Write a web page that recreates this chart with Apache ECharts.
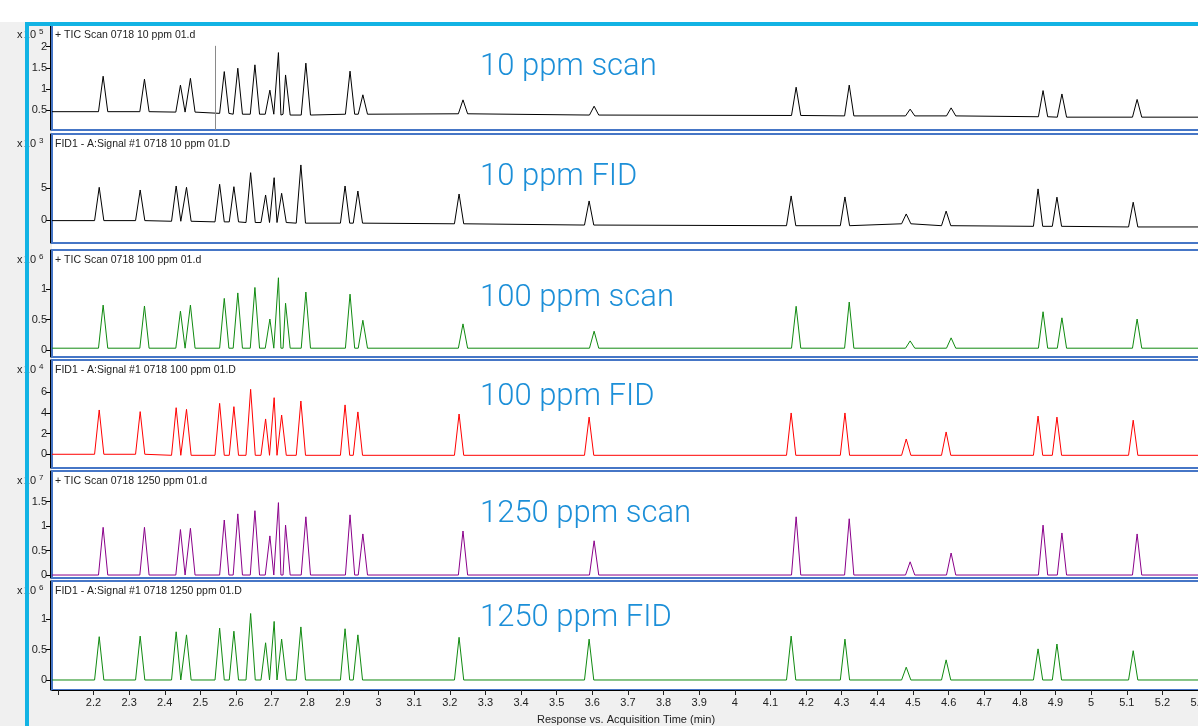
<!DOCTYPE html>
<html><head><meta charset="utf-8">
<script src="https://cdn.jsdelivr.net/npm/echarts@6/dist/echarts.min.js"></script>
<style>html,body{margin:0;padding:0;background:#fff}#c{width:1198px;height:726px}</style>
</head><body><div id="c"></div>
<script>
// ---------- data ----------
// retention times (min) of the peaks, MS (TIC) traces and FID traces
const msTimes  = [2.227, 2.343, 2.444, 2.472, 2.567, 2.605, 2.653, 2.695, 2.719, 2.739, 2.796, 2.920, 2.956, 3.237, 3.605, 4.172, 4.321, 4.492, 4.607, 4.865, 4.918, 5.129];
const fidTimes = [2.216, 2.331, 2.432, 2.461, 2.554, 2.594, 2.641, 2.683, 2.707, 2.728, 2.782, 2.906, 2.942, 3.226, 3.591, 4.158, 4.309, 4.481, 4.593, 4.851, 4.904, 5.118];

// apex heights (in units of the panel's multiplier)
const tic10Peaks   = [1.30, 1.23, 1.09, 1.25, 1.41, 1.49, 1.57, 0.97, 1.86, 1.33, 1.61, 1.42, 0.86, 0.74, 0.59, 1.04, 1.09, 0.52, 0.55, 0.96, 0.88, 0.75];
const fid10Peaks   = [5.15, 4.73, 5.36, 5.15, 5.63, 5.25, 7.46, 3.94, 6.67, 4.21, 8.68, 5.36, 4.57, 4.10, 3.00, 3.79, 3.63, 0.95, 1.40, 4.90, 3.60, 2.80];
const tic100Peaks  = [0.74, 0.725, 0.64, 0.74, 0.85, 0.94, 1.03, 0.51, 1.19, 0.77, 0.955, 0.92, 0.49, 0.43, 0.31, 0.72, 0.79, 0.15, 0.20, 0.63, 0.53, 0.51];
const fid100Peaks  = [4.29, 4.13, 4.51, 4.35, 4.93, 4.61, 6.29, 3.42, 5.48, 3.80, 5.16, 4.78, 4.10, 3.90, 3.60, 4.00, 4.00, 1.48, 2.16, 3.70, 3.60, 3.30];
const tic1250Peaks = [0.975, 0.975, 0.93, 0.955, 1.125, 1.25, 1.315, 0.80, 1.48, 1.02, 1.19, 1.23, 0.84, 0.90, 0.70, 1.19, 1.15, 0.27, 0.45, 1.02, 0.86, 0.84];
const fid1250Peaks = [0.71, 0.72, 0.79, 0.74, 0.85, 0.80, 1.09, 0.61, 0.96, 0.67, 0.87, 0.84, 0.74, 0.70, 0.67, 0.72, 0.67, 0.21, 0.33, 0.51, 0.59, 0.48];

// baseline level under each peak
const tic10Base   = [0.46, 0.46, 0.45, 0.45, 0.42, 0.40, 0.40, 0.40, 0.40, 0.38, 0.38, 0.40, 0.40, 0.41, 0.38, 0.37, 0.36, 0.36, 0.36, 0.34, 0.33, 0.33];
const fid10Base   = [-0.1, -0.1, -0.2, -0.2, -0.3, -0.3, -0.4, -0.4, -0.4, -0.4, -0.5, -0.5, -0.5, -0.6, -0.8, -0.9, -0.9, -0.6, -0.9, -1.0, -1.0, -1.1];
const tic100Base  = [0.03, 0.03, 0.03, 0.03, 0.03, 0.03, 0.03, 0.03, 0.03, 0.03, 0.03, 0.03, 0.03, 0.03, 0.03, 0.03, 0.03, 0.03, 0.03, 0.03, 0.03, 0.03];
const fid100Base  = [0.0, 0.0, -0.1, -0.1, -0.1, -0.1, -0.1, -0.1, -0.1, -0.1, -0.1, -0.1, -0.1, -0.1, -0.1, -0.1, -0.1, -0.1, -0.1, -0.1, -0.1, -0.1];
const tic1250Base = [0.0, 0.0, 0.0, 0.0, 0.0, 0.0, 0.0, 0.0, 0.0, 0.0, 0.0, 0.0, 0.0, 0.0, 0.0, 0.0, 0.0, 0.0, 0.0, 0.0, 0.0, 0.0];
const fid1250Base = [0.0, 0.0, 0.0, 0.0, 0.0, 0.0, 0.0, 0.0, 0.0, 0.0, 0.0, 0.0, 0.0, 0.0, 0.0, 0.0, 0.0, 0.0, 0.0, 0.0, 0.0, 0.0];

const cursorTime = 2.541;

const panelTitles = [
  '+ TIC Scan 0718 10 ppm 01.d',
  'FID1 - A:Signal #1 0718 10 ppm 01.D',
  '+ TIC Scan 0718 100 ppm 01.d',
  'FID1 - A:Signal #1 0718 100 ppm 01.D',
  '+ TIC Scan 0718 1250 ppm 01.d',
  'FID1 - A:Signal #1 0718 1250 ppm 01.D'
];
const overlayLabels = ['10 ppm scan', '10 ppm FID', '100 ppm scan', '100 ppm FID', '1250 ppm scan', '1250 ppm FID'];
const exponents = ['5', '3', '6', '4', '7', '6'];
const yTickValues = [[0.5, 1, 1.5, 2], [0, 5], [0, 0.5, 1], [0, 2, 4, 6], [0, 0.5, 1, 1.5], [0, 0.5, 1]];
const xTickValues  = [2.1, 2.2, 2.3, 2.4, 2.5, 2.6, 2.7, 2.8, 2.9, 3, 3.1, 3.2, 3.3, 3.4, 3.5, 3.6, 3.7, 3.8, 3.9, 4, 4.1, 4.2, 4.3, 4.4, 4.5, 4.6, 4.7, 4.8, 4.9, 5, 5.1, 5.2, 5.3];
const xLabelValues = [2.2, 2.3, 2.4, 2.5, 2.6, 2.7, 2.8, 2.9, 3, 3.1, 3.2, 3.3, 3.4, 3.5, 3.6, 3.7, 3.8, 3.9, 4, 4.1, 4.2, 4.3, 4.4, 4.5, 4.6, 4.7, 4.8, 4.9, 5, 5.1, 5.2, 5.3];
const xAxisTitle = 'Response vs. Acquisition Time (min)';

// ---------- layout ----------
const X_MIN = 2.0835, X_MAX = 5.3055;
const HW = 0.013;
const panels = [
  {top: 25,  h: 105, min: 0.026, max: 2.514, color: '#000000', times: msTimes,  peaks: tic10Peaks,   base: tic10Base,   labelY: 67},
  {top: 134, h: 109, min: -3.63, max: 13.56, color: '#000000', times: fidTimes, peaks: fid10Peaks,   base: fid10Base,   labelY: 177},
  {top: 250, h: 107, min: -0.115, max: 1.647, color: '#108a10', times: msTimes,  peaks: tic100Peaks,  base: tic100Base,  labelY: 298},
  {top: 360, h: 108, min: -1.33, max: 9.13,  color: '#ff0000', times: fidTimes, peaks: fid100Peaks,  base: fid100Base,  labelY: 397},
  {top: 471, h: 107, min: -0.061, max: 2.127, color: '#8a008a', times: msTimes,  peaks: tic1250Peaks, base: tic1250Base, labelY: 514},
  {top: 581, h: 109, min: -0.164, max: 1.623, color: '#108a10', times: fidTimes, peaks: fid1250Peaks, base: fid1250Base, labelY: 618}
];

function trace(times, peaks, base) {
  const pts = [[X_MIN, base[0]]];
  times.forEach((t, i) => {
    pts.push([t - HW, base[i]], [t, peaks[i]], [t + HW, base[i]]);
  });
  pts.push([X_MAX, base[base.length - 1]]);
  pts.sort((a, b) => a[0] - b[0]);
  return pts;
}

const font = 'Liberation Sans, Arial, sans-serif';
const grids = [], xAxes = [], yAxes = [], series = [], graphics = [];

graphics.push({type: 'rect', z: -10, shape: {x: 0, y: 0, width: 1198, height: 22}, style: {fill: '#ffffff'}});
graphics.push({type: 'rect', z: -10, shape: {x: 52, y: 22, width: 1146, height: 669}, style: {fill: '#ffffff'}});

panels.forEach((p, i) => {
  grids.push({left: 52, top: p.top, width: 1148, height: p.h, show: true, backgroundColor: '#ffffff', borderColor: '#4676c6', borderWidth: 2, containLabel: false, outerBoundsMode: 'none'});
  const last = i === panels.length - 1;
  xAxes.push({
    type: 'value', gridIndex: i, min: X_MIN, max: X_MAX, show: last,
    splitLine: {show: false},
    axisLine: {show: last, onZero: false, lineStyle: {color: '#000', width: 1}},
    axisTick: {show: last, length: 5, customValues: xTickValues, lineStyle: {color: '#222'}},
    axisLabel: {show: last, customValues: xLabelValues, margin: 7, fontSize: 11, color: '#222', fontFamily: font, hideOverlap: false},
    name: last ? xAxisTitle : '', nameLocation: 'middle', nameGap: 24,
    nameTextStyle: {fontSize: 11, color: '#222', fontFamily: font}
  });
  yAxes.push({
    type: 'value', gridIndex: i, min: p.min, max: p.max, offset: 2,
    splitLine: {show: false},
    axisLine: {show: true, onZero: false, lineStyle: {color: '#000', width: 1}},
    axisTick: {show: true, length: 4, customValues: yTickValues[i], lineStyle: {color: '#000'}},
    axisLabel: {customValues: yTickValues[i], margin: 3, fontSize: 11, color: '#222', fontFamily: font}
  });
  const s = {
    type: 'line', xAxisIndex: i, yAxisIndex: i, data: trace(p.times, p.peaks, p.base),
    showSymbol: false, symbol: 'none', lineStyle: {color: p.color, width: 1}, silent: true, clip: true
  };
  if (i === 0) {
    s.markLine = {silent: true, symbol: 'none', label: {show: false},
      lineStyle: {color: '#8a8a8a', width: 1, type: 'solid'},
      data: [[{coord: [cursorTime, 2.02]}, {coord: [cursorTime, p.min]}]]};
  }
  series.push(s);

  const ty = p.top + 10;
  graphics.push({type: 'text', z: 50, x: 55, y: ty, style: {text: panelTitles[i], font: '10.5px ' + font, fill: '#222', textVerticalAlign: 'middle', verticalAlign: 'middle'}});
  graphics.push({type: 'text', z: 50, x: 17, y: ty, style: {text: 'x', font: '11px ' + font, fill: '#222', textVerticalAlign: 'middle', verticalAlign: 'middle'}});
  graphics.push({type: 'text', z: 50, x: 36, y: ty, style: {text: '10', font: '11px ' + font, fill: '#222', textAlign: 'right', align: 'right', textVerticalAlign: 'middle', verticalAlign: 'middle'}});
  graphics.push({type: 'text', z: 50, x: 39, y: ty - 3, style: {text: exponents[i], font: '8px ' + font, fill: '#222', textVerticalAlign: 'middle', verticalAlign: 'middle'}});
  graphics.push({type: 'text', z: 60, x: 480, y: p.labelY, style: {text: overlayLabels[i], font: '300 31px Roboto, sans-serif', fill: '#1c8fd8', textVerticalAlign: 'middle', verticalAlign: 'middle'}});
});

// cyan selection frame
graphics.push({type: 'rect', z: 100, shape: {x: 25, y: 22, width: 4, height: 704}, style: {fill: '#12b3e4'}});
graphics.push({type: 'rect', z: 100, shape: {x: 25, y: 22, width: 1173, height: 4}, style: {fill: '#12b3e4'}});

const chart = echarts.init(document.getElementById('c'), null, {renderer: 'canvas'});
chart.setOption({
  backgroundColor: '#f0f0f0',
  animation: false,
  grid: grids, xAxis: xAxes, yAxis: yAxes, series: series,
  graphic: {elements: graphics}
});
</script></body></html>
